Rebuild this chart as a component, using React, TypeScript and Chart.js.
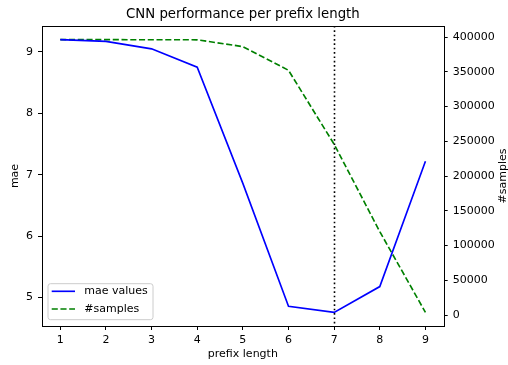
import React, { useEffect, useRef } from "react";
import { Chart, registerables } from "chart.js";

Chart.register(...registerables);

const prefixLengths = [1, 2, 3, 4, 5, 6, 7, 8, 9];
const maeValues = [9.2, 9.17, 9.05, 8.75, 6.86, 4.86, 4.76, 5.18, 7.22];
const sampleCounts = [396500, 396400, 396300, 396200, 386400, 352300, 245800, 120000, 3800];

const xTicks = [1, 2, 3, 4, 5, 6, 7, 8, 9];
const maeTicks = [5, 6, 7, 8, 9];
const sampleTicks = [0, 50000, 100000, 150000, 200000, 250000, 300000, 350000, 400000];

const thresholdPrefix = 7;
const chartTitle = "CNN performance per prefix length";
const xLabel = "prefix length";
const yLabel = "mae";
const y2Label = "#samples";
const maeLabel = "mae values";
const samplesLabel = "#samples";

const FONT = "'DejaVu Sans', sans-serif";
const FS = 11;

function padRange(vals: number[]) {
  const mn = Math.min(...vals);
  const mx = Math.max(...vals);
  const m = (mx - mn) * 0.05;
  return { min: mn - m, max: mx + m };
}

const overlayPlugin = {
  id: "overlay",
  afterDatasetsDraw(chart: any) {
    const ctx = chart.ctx;
    const { left, right, top, bottom } = chart.chartArea;
    const xs = chart.scales.x;
    ctx.save();
    // threshold line
    const vx = Math.round(xs.getPixelForValue(thresholdPrefix)) + 0.5;
    ctx.strokeStyle = "#000";
    ctx.lineWidth = 1.6;
    ctx.setLineDash([1.65, 2.7]);
    ctx.beginPath();
    ctx.moveTo(vx, top);
    ctx.lineTo(vx, bottom);
    ctx.stroke();
    ctx.setLineDash([]);
    // frame
    ctx.lineWidth = 1;
    ctx.strokeStyle = "#000";
    ctx.strokeRect(Math.round(left) + 0.5, Math.round(top) + 0.5, Math.round(right - left), Math.round(bottom - top));

    // legend
    const bx = left + 6;
    const bw = 105;
    const bh = 36;
    const by = bottom - 6.3 - bh;
    ctx.beginPath();
    const r = 2.5;
    ctx.moveTo(bx + r, by);
    ctx.lineTo(bx + bw - r, by);
    ctx.quadraticCurveTo(bx + bw, by, bx + bw, by + r);
    ctx.lineTo(bx + bw, by + bh - r);
    ctx.quadraticCurveTo(bx + bw, by + bh, bx + bw - r, by + bh);
    ctx.lineTo(bx + r, by + bh);
    ctx.quadraticCurveTo(bx, by + bh, bx, by + bh - r);
    ctx.lineTo(bx, by + r);
    ctx.quadraticCurveTo(bx, by, bx + r, by);
    ctx.closePath();
    ctx.fillStyle = "rgba(255,255,255,0.8)";
    ctx.fill();
    ctx.strokeStyle = "#cccccc";
    ctx.lineWidth = 1;
    ctx.stroke();
    const ds = chart.data.datasets;
    const rows = [by + 7.6, by + 25.3];
    ds.forEach((d: any, i: number) => {
      const yy = rows[i];
      ctx.strokeStyle = d.borderColor;
      ctx.lineWidth = d.borderWidth;
      ctx.setLineDash(d.borderDash || []);
      ctx.beginPath();
      ctx.moveTo(bx + 3.7, yy);
      ctx.lineTo(bx + 27, yy);
      ctx.stroke();
      ctx.setLineDash([]);
      ctx.fillStyle = "#000";
      ctx.font = `${FS}px ${FONT}`;
      ctx.textAlign = "left";
      ctx.textBaseline = "middle";
      ctx.fillText(d.label, bx + 36.3, yy);
    });

    // axis titles
    ctx.fillStyle = "#000";
    ctx.font = `${FS}px ${FONT}`;
    ctx.textAlign = "center";
    ctx.textBaseline = "middle";
    ctx.fillText(xLabel, (left + right) / 2, 354.5);
    const cy = (top + bottom) / 2;
    ctx.save();
    ctx.translate(15, cy);
    ctx.rotate(-Math.PI / 2);
    ctx.fillText(yLabel, 0, 0);
    ctx.restore();
    ctx.save();
    ctx.translate(503.5, cy);
    ctx.rotate(-Math.PI / 2);
    ctx.fillText(y2Label, 0, 0);
    ctx.restore();
    ctx.restore();
  },
};

export default function App() {
  const ref = useRef<HTMLCanvasElement>(null);
  useEffect(() => {
    const canvas = ref.current;
    if (!canvas) return;
    const maeR = padRange(maeValues);
    const smpR = padRange(sampleCounts);
    const xR = padRange(prefixLengths);
    const tickFont = { family: FONT, size: FS };
    const chart = new Chart(canvas, {
      type: "line",
      data: {
        datasets: [
          {
            label: maeLabel,
            data: prefixLengths.map((x, i) => ({ x, y: maeValues[i] })),
            borderColor: "#0000ff",
            backgroundColor: "#0000ff",
            borderWidth: 1.65,
            pointRadius: 0,
            tension: 0,
            yAxisID: "y",
          },
          {
            label: samplesLabel,
            data: prefixLengths.map((x, i) => ({ x, y: sampleCounts[i] })),
            borderColor: "#008000",
            backgroundColor: "#008000",
            borderWidth: 1.65,
            borderDash: [6.1, 2.65],
            pointRadius: 0,
            tension: 0,
            yAxisID: "y1",
          },
        ],
      },
      options: {
        responsive: false,
        animation: false,
        devicePixelRatio: 1,
        layout: { padding: 0 },
        plugins: {
          legend: { display: false },
          tooltip: { enabled: false },
          title: {
            display: true,
            text: chartTitle,
            fullSize: false,
            color: "#000",
            font: { family: FONT, size: 13.3, weight: "normal", lineHeight: 1.2 },
            padding: { top: 7, bottom: 3 },
          },
        },
        scales: {
          x: {
            type: "linear",
            min: xR.min,
            max: xR.max,
            afterBuildTicks: (s: any) => {
              s.ticks = xTicks.map((v) => ({ value: v }));
            },
            afterFit: (s: any) => {
              s.height = 39;
            },
            ticks: { color: "#000", font: tickFont, padding: 3.5, maxRotation: 0, autoSkip: false, callback: (v: any) => String(v) },
            grid: { display: true, drawOnChartArea: false, drawTicks: true, tickLength: 4, color: "#000", lineWidth: 1 },
            border: { display: false },
          },
          y: {
            type: "linear",
            position: "left",
            min: maeR.min,
            max: maeR.max,
            afterBuildTicks: (s: any) => {
              s.ticks = maeTicks.map((v) => ({ value: v }));
            },
            afterFit: (s: any) => {
              s.width = 42;
            },
            ticks: { color: "#000", font: tickFont, padding: 5, callback: (v: any) => String(v) },
            grid: { display: true, drawOnChartArea: false, drawTicks: true, tickLength: 4, color: "#000", lineWidth: 1 },
            border: { display: false },
          },
          y1: {
            type: "linear",
            position: "right",
            min: smpR.min,
            max: smpR.max,
            afterBuildTicks: (s: any) => {
              s.ticks = sampleTicks.map((v) => ({ value: v }));
            },
            afterFit: (s: any) => {
              s.width = 64.3;
            },
            ticks: { color: "#000", font: tickFont, padding: 5, callback: (v: any) => String(v) },
            grid: { display: true, drawOnChartArea: false, drawTicks: true, tickLength: 4, color: "#000", lineWidth: 1 },
            border: { display: false },
          },
        },
      },
      plugins: [overlayPlugin],
    } as any);
    return () => chart.destroy();
  }, []);
  return (
    <div style={{ position: "absolute", left: 0, top: 0, width: 508, height: 365, background: "#fff" }}>
      <canvas ref={ref} width={508} height={365} style={{ display: "block" }} />
    </div>
  );
}
